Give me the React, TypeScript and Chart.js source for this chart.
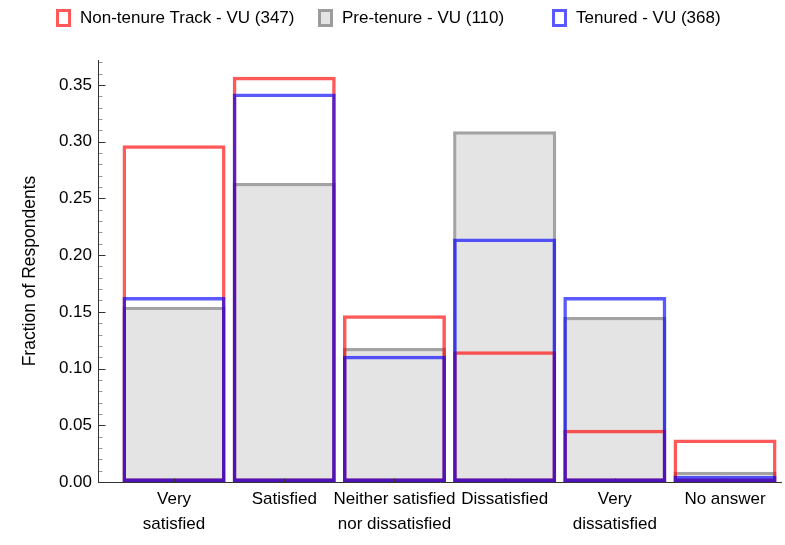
import React, { useEffect, useRef } from "react";
import { Chart, registerables } from "chart.js";

Chart.register(...registerables);

const categories: (string | string[])[] = [
  ["Very", "satisfied"],
  "Satisfied",
  ["Neither satisfied", "nor dissatisfied"],
  "Dissatisfied",
  ["Very", "dissatisfied"],
  "No answer",
];

const nonTenure = [0.2968, 0.3573, 0.147, 0.1153, 0.0461, 0.0375];
const preTenure = [0.1545, 0.2636, 0.1182, 0.3091, 0.1455, 0.0091];
const tenured = [0.163, 0.3424, 0.1114, 0.2147, 0.163, 0.0054];

const seriesNames = [
  "Non-tenure Track - VU (347)",
  "Pre-tenure - VU (110)",
  "Tenured - VU (368)",
];

const yTickValues = [0, 0.05, 0.1, 0.15, 0.2, 0.25, 0.3, 0.35];
const yMinorStep = 0.01;
const yMax = 0.372;

const RED = "rgba(255,0,0,0.65)";
const GRAY = "rgba(128,128,128,0.72)";
const BLUE = "rgba(0,0,255,0.65)";
const GRAY_FILL = "#e4e4e4";
const FONT = "'Liberation Sans', Arial, sans-serif";

const toPoints = (vals: number[]) => vals.map((v, i) => ({ x: i + 1, y: v }));

const axesPlugin = {
  id: "mmaAxes",
  afterDraw(chart: any) {
    const { ctx, chartArea } = chart;
    const xs = chart.scales.x;
    const ys = chart.scales.y;
    const left = Math.round(chartArea.left) + 0.5;
    const bottom = Math.round(ys.getPixelForValue(0)) + 0.5;
    ctx.save();
    ctx.lineWidth = 1;
    // minor ticks
    ctx.strokeStyle = "#999";
    for (let v = 0; v <= yMax + 1e-9; v += yMinorStep) {
      const y = Math.round(ys.getPixelForValue(v)) + 0.5;
      ctx.beginPath();
      ctx.moveTo(left, y);
      ctx.lineTo(left + 4, y);
      ctx.stroke();
    }
    ctx.strokeStyle = "#333";
    yTickValues.forEach((v) => {
      const y = Math.round(ys.getPixelForValue(v)) + 0.5;
      ctx.beginPath();
      ctx.moveTo(left, y);
      ctx.lineTo(left + 7, y);
      ctx.stroke();
    });
    categories.forEach((_, i) => {
      const x = Math.round(xs.getPixelForValue(i + 1)) + 0.5;
      ctx.beginPath();
      ctx.moveTo(x, bottom);
      ctx.lineTo(x, bottom - 4);
      ctx.stroke();
    });
    ctx.beginPath();
    ctx.moveTo(left, chartArea.top);
    ctx.lineTo(left, bottom);
    ctx.lineTo(chartArea.right, bottom);
    ctx.stroke();
    ctx.restore();
  },
};

export default function App() {
  const ref = useRef<HTMLCanvasElement | null>(null);

  useEffect(() => {
    if (!ref.current) return;
    const common = {
      borderWidth: 3.5,
      borderSkipped: false as const,
      barPercentage: 0.935,
      categoryPercentage: 1,
      grouped: false,
    };
    const chart = new Chart(ref.current, {
      type: "bar",
      data: {
        datasets: [
          {
            label: seriesNames[2],
            data: toPoints(tenured),
            borderColor: BLUE,
            backgroundColor: "rgba(0,0,0,0)",
            ...common,
          },
          {
            label: seriesNames[0],
            data: toPoints(nonTenure),
            borderColor: RED,
            backgroundColor: "rgba(0,0,0,0)",
            ...common,
          },
          {
            label: seriesNames[1],
            data: toPoints(preTenure),
            borderColor: GRAY,
            backgroundColor: GRAY_FILL,
            ...common,
          },
        ] as any,
      },
      options: {
        animation: false,
        responsive: true,
        maintainAspectRatio: false,
        layout: { padding: { top: 60, right: 3, left: 0, bottom: 0 } },
        plugins: { legend: { display: false }, tooltip: { enabled: false } },
        scales: {
          x: {
            type: "linear",
            min: 0.31,
            max: 6.517,
            offset: false,
            grid: { display: false, drawTicks: false },
            border: { display: false },
            afterBuildTicks: (s: any) => {
              s.ticks = categories.map((_, i) => ({ value: i + 1 }));
            },
            afterFit: (s: any) => {
              s.height = 63;
            },
            ticks: {
              autoSkip: false,
              maxRotation: 0,
              minRotation: 0,
              padding: 5,
              color: "#000",
              font: { family: FONT, size: 17, lineHeight: 1.47 },
              callback: (v: any) => categories[Math.round(Number(v)) - 1] as any,
            },
          },
          y: {
            type: "linear",
            min: 0,
            max: yMax,
            grid: { display: false, drawTicks: false },
            border: { display: false },
            afterBuildTicks: (s: any) => {
              s.ticks = yTickValues.map((v) => ({ value: v }));
            },
            afterFit: (s: any) => {
              s.width = 98;
            },
            ticks: {
              padding: 6,
              color: "#000",
              font: { family: FONT, size: 17 },
              callback: (v: any) => Number(v).toFixed(2),
            },
            title: {
              display: true,
              text: "Fraction of Respondents",
              color: "#000",
              font: { family: FONT, size: 17.5 },
              padding: { top: 20, bottom: 0 },
            },
          },
        },
      } as any,
      plugins: [axesPlugin],
    });
    return () => chart.destroy();
  }, []);

  const legendItems = [
    { name: seriesNames[0], color: RED, fill: "#fff", boxLeft: 56, textLeft: 80 },
    { name: seriesNames[1], color: GRAY, fill: GRAY_FILL, boxLeft: 318, textLeft: 342 },
    { name: seriesNames[2], color: BLUE, fill: "#fff", boxLeft: 552, textLeft: 576 },
  ];

  return (
    <div
      style={{
        position: "absolute",
        left: 0,
        top: 0,
        width: 785,
        height: 545,
        background: "#fff",
        fontFamily: FONT,
      }}
    >
      <canvas ref={ref} />
      {legendItems.map((it) => (
        <React.Fragment key={it.name}>
          <div
            style={{
              position: "absolute",
              left: it.boxLeft,
              top: 9,
              width: 15,
              height: 18,
              boxSizing: "border-box",
              border: `3.5px solid ${it.color}`,
              background: it.fill,
            }}
          />
          <div
            style={{
              position: "absolute",
              left: it.textLeft,
              top: 7,
              fontSize: 17,
              lineHeight: "22px",
              color: "#000",
              whiteSpace: "nowrap",
            }}
          >
            {it.name}
          </div>
        </React.Fragment>
      ))}
    </div>
  );
}
